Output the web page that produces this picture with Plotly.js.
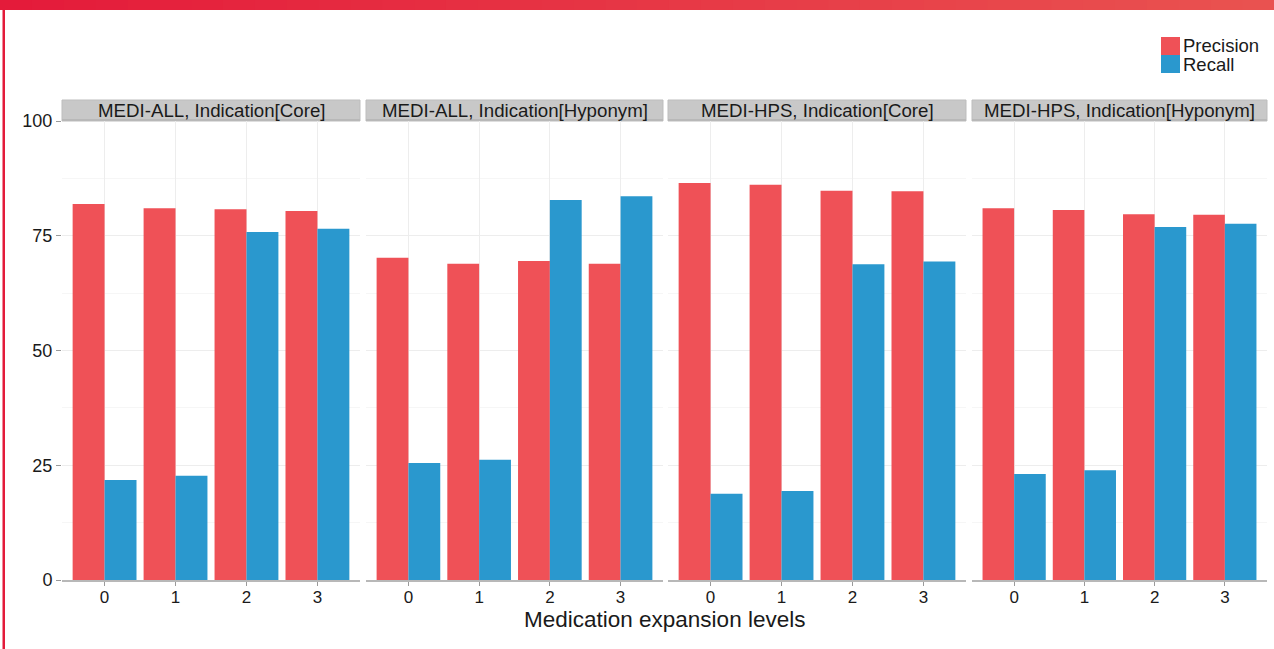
<!DOCTYPE html>
<html>
<head>
<meta charset="utf-8">
<script src="https://cdn.plot.ly/plotly-3.0.1.min.js"></script>
<style>
  html, body { margin: 0; padding: 0; background: #ffffff; }
  #chart { width: 1274px; height: 649px; }
</style>
</head>
<body>
<div id="chart"></div>
<script>
// ---- Data ----
const levels = [0, 1, 2, 3];
const levelLabels = ["0", "1", "2", "3"];
const seriesNames = ["Precision", "Recall"];
const panelTitles = [
  "MEDI-ALL, Indication[Core]",
  "MEDI-ALL, Indication[Hyponym]",
  "MEDI-HPS, Indication[Core]",
  "MEDI-HPS, Indication[Hyponym]"
];
const precisionAllCore = [81.9, 81.0, 80.8, 80.4];
const recallAllCore    = [21.8, 22.7, 75.8, 76.5];
const precisionAllHypo = [70.2, 68.9, 69.5, 68.9];
const recallAllHypo    = [25.5, 26.2, 82.8, 83.6];
const precisionHpsCore = [86.5, 86.1, 84.8, 84.7];
const recallHpsCore    = [18.8, 19.4, 68.8, 69.4];
const precisionHpsHypo = [81.0, 80.6, 79.7, 79.6];
const recallHpsHypo    = [23.1, 23.9, 76.9, 77.6];
const yTicks = [0, 25, 50, 75, 100];

const precisionSeries = [precisionAllCore, precisionAllHypo, precisionHpsCore, precisionHpsHypo];
const recallSeries = [recallAllCore, recallAllHypo, recallHpsCore, recallHpsHypo];

const RED = "#EF5157";
const BLUE = "#2A98CE";
const COLORS = [RED, BLUE];
const FONT = "Liberation Sans, Arial, sans-serif";

// ---- Layout geometry (pixels) ----
const W = 1274, H = 649;
const L = 62, R = 7, T = 121, B = 69;
const pw = W - L - R, ph = H - T - B;
const px = x => (x - L) / pw;
const py = y => (H - B - y) / ph;

const domains = [
  [px(62), px(360)],
  [px(366), px(663)],
  [px(668), px(966)],
  [px(972), px(1267)]
];

const traces = [];
for (let i = 0; i < 4; i++) {
  const ax = i === 0 ? "x" : "x" + (i + 1);
  traces.push({
    type: "bar", name: seriesNames[0], x: levels, y: precisionSeries[i],
    xaxis: ax, yaxis: "y", marker: { color: RED, line: { width: 0 } },
    showlegend: false, hoverinfo: "y"
  });
  traces.push({
    type: "bar", name: seriesNames[1], x: levels, y: recallSeries[i],
    xaxis: ax, yaxis: "y", marker: { color: BLUE, line: { width: 0 } },
    showlegend: false, hoverinfo: "y"
  });
}

const layout = {
  width: W, height: H,
  margin: { l: L, r: R, t: T, b: B },
  paper_bgcolor: "#ffffff",
  plot_bgcolor: "#ffffff",
  barmode: "group",
  bargap: 0.1,
  bargroupgap: 0,
  font: { family: FONT, color: "#1a1a1a", size: 16 },
  showlegend: false,
  yaxis: {
    range: [0, 100], tickvals: yTicks, ticktext: yTicks.map(String),
    ticks: "outside", ticklen: 5, tickcolor: "#9a9a9a", tickwidth: 1,
    tickfont: { family: FONT, size: 18, color: "#1a1a1a" },
    showgrid: true, gridcolor: "#ededed", gridwidth: 1,
    minor: { dtick: 12.5, tick0: 0, showgrid: true, gridcolor: "#f6f6f6", ticks: "" },
    zeroline: false, showline: false, fixedrange: true
  },
  shapes: [],
  annotations: []
};

for (let i = 0; i < 4; i++) {
  const key = i === 0 ? "xaxis" : "xaxis" + (i + 1);
  layout[key] = {
    domain: domains[i], anchor: "y",
    range: [-0.6, 3.6], tickvals: levels, ticktext: levelLabels,
    ticks: "outside", ticklen: 4, tickcolor: "#9a9a9a", tickwidth: 1,
    ticklabelstandoff: -3,
    tickfont: { family: FONT, size: 17, color: "#1a1a1a" },
    showgrid: true, gridcolor: "#ededed", gridwidth: 1,
    zeroline: false, showline: true, mirror: true,
    linecolor: "#b8b8b8", linewidth: 2, fixedrange: true
  };
  const dref = (i === 0 ? "x" : "x" + (i + 1)) + " domain";
  // strip header
  layout.shapes.push({
    type: "rect", xref: dref, yref: "paper",
    x0: 0, x1: 1, y0: 1, y1: py(100),
    fillcolor: "#c8c8c8", line: { color: "#bdbdbd", width: 1 }, layer: "below"
  });
  layout.annotations.push({
    xref: dref, yref: "paper", x: 0.5, y: (1 + py(100)) / 2,
    xanchor: "center", yanchor: "middle", showarrow: false,
    text: panelTitles[i], font: { family: FONT, size: 18.7, color: "#1a1a1a" }
  });
}

// x axis title
layout.annotations.push({
  xref: "paper", yref: "paper", x: 0.5, y: py(619),
  xanchor: "center", yanchor: "middle", showarrow: false,
  text: "Medication expansion levels",
  font: { family: FONT, size: 22.5, color: "#1a1a1a" }
});

// legend (swatches + labels)
for (let k = 0; k < 2; k++) {
  layout.shapes.push({
    type: "rect", xref: "paper", yref: "paper",
    x0: px(1161), x1: px(1180), y0: py(55 + 18 * k), y1: py(37 + 18 * k),
    fillcolor: COLORS[k], line: { width: 0 }
  });
  layout.annotations.push({
    xref: "paper", yref: "paper", x: px(1181), y: py(46 + 18 * k),
    xanchor: "left", yanchor: "middle", showarrow: false,
    text: seriesNames[k], font: { family: FONT, size: 18.5, color: "#1a1a1a" }
  });
}

// decorative red frame: top gradient bar and left line
const nSeg = 40;
const c0 = [228, 27, 58], c1 = [233, 82, 80];
for (let s = 0; s < nSeg; s++) {
  const t = s / (nSeg - 1);
  const c = c0.map((v, k) => Math.round(v + (c1[k] - v) * t));
  layout.shapes.push({
    type: "rect", xref: "paper", yref: "paper",
    x0: px(s * W / nSeg), x1: px((s + 1) * W / nSeg + 1),
    y0: py(10), y1: py(0),
    fillcolor: "rgb(" + c.join(",") + ")", line: { width: 0 }
  });
}
layout.shapes.push({
  type: "rect", xref: "paper", yref: "paper",
  x0: px(2.5), x1: px(5), y0: py(H), y1: py(9),
  fillcolor: "#e31b3a", line: { width: 0 }
});

Plotly.newPlot("chart", traces, layout, { displayModeBar: false, staticPlot: true });
</script>
</body>
</html>
